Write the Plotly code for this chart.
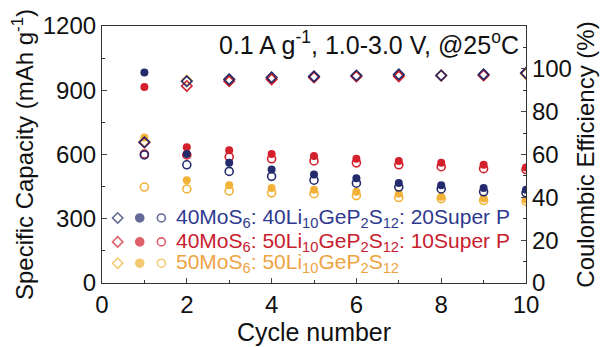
import plotly.graph_objects as go

cycles = [1, 2, 3, 4, 5, 6, 7, 8, 9, 10]

# 40MoS6 : 40LGPS : 20 Super P (navy)
blue_dis = [983, 602, 561, 530, 507, 489, 467, 457, 444, 435]
blue_chg = [598, 552, 521, 498, 480, 466, 448, 439, 426, 421]
blue_ce = [65.7, 94.2, 95.1, 96.0, 96.5, 96.9, 97.4, 96.9, 97.4, 98.0]

# 40MoS6 : 50LGPS : 10 Super P (red)
red_dis = [915, 634, 620, 602, 593, 580, 570, 561, 552, 539]
red_chg = [602, 598, 589, 580, 570, 561, 552, 543, 534, 530]
red_ce = [65.6, 92.0, 94.2, 95.1, 96.0, 96.4, 96.5, 96.9, 96.9, 98.0]

# 50MoS6 : 50LGPS (yellow)
yel_dis = [679, 480, 457, 444, 435, 426, 417, 403, 394, 390]
yel_chg = [448, 439, 430, 421, 417, 408, 399, 394, 385, 381]
yel_ce = [66.0, 94.5, 95.0, 95.8, 96.2, 96.6, 97.0, 96.8, 97.2, 97.6]

legend_labels = [
    "40MoS<sub>6</sub>: 40Li<sub>10</sub>GeP<sub>2</sub>S<sub>12</sub>: 20Super P",
    "40MoS<sub>6</sub>: 50Li<sub>10</sub>GeP<sub>2</sub>S<sub>12</sub>: 10Super P",
    "50MoS<sub>6</sub>: 50Li<sub>10</sub>GeP<sub>2</sub>S<sub>12</sub>",
]

NAVY = "#242b6c"
RED = "#d41f2c"
YEL = "#f2b238"
TXT_NAVY = "#2e3a8f"
TXT_RED = "#c8202e"
TXT_YEL = "#eea444"

FONT = "Liberation Sans, Arial, sans-serif"
MS = 8

fig = go.Figure()

series = [
    (yel_dis, yel_chg, yel_ce, YEL),
    (red_dis, red_chg, red_ce, RED),
    (blue_dis, blue_chg, blue_ce, NAVY),
]
for dis, chg, ce, col in series:
    fig.add_trace(go.Scatter(x=cycles, y=chg, mode="markers",
                             marker=dict(symbol="circle-open", size=MS, color=col, line=dict(width=1.6)),
                             xaxis="x", yaxis="y", showlegend=False))
    fig.add_trace(go.Scatter(x=cycles, y=dis, mode="markers",
                             marker=dict(symbol="circle", size=MS, color=col),
                             xaxis="x", yaxis="y", showlegend=False))
for dis, chg, ce, col in series:
    fig.add_trace(go.Scatter(x=cycles, y=ce, mode="markers",
                             marker=dict(symbol="diamond-open", size=MS, color=col, line=dict(width=1.6)),
                             xaxis="x", yaxis="y2", showlegend=False))

# custom legend (overlay axes in fractions of the plot area)
leg_cols = [NAVY, RED, YEL]
leg_txt_cols = [TXT_NAVY, TXT_RED, TXT_YEL]
leg_rows = [0.253, 0.160, 0.077]
leg_sym_x = [0.037, 0.089, 0.140]
leg_syms = ["diamond-open", "circle", "circle-open"]
for col, ry in zip(leg_cols, leg_rows):
    fig.add_trace(go.Scatter(
        x=leg_sym_x, y=[ry] * 3, mode="markers",
        marker=dict(symbol=leg_syms, size=[MS, MS, MS], color=col, line=dict(width=1.6, color=col)),
        xaxis="x3", yaxis="y3", showlegend=False, hoverinfo="skip"))

annotations = []
for lab, col, ry in zip(legend_labels, leg_txt_cols, leg_rows):
    annotations.append(dict(text=lab, x=0.170, y=ry, xref="paper", yref="paper",
                            xanchor="left", yanchor="middle", showarrow=False,
                            font=dict(family=FONT, size=21, color=col)))
annotations.append(dict(text="0.1 A g<sup>-1</sup>, 1.0-3.0 V, @25<sup>o</sup>C",
                        x=0.988, y=0.935, xref="paper", yref="paper",
                        xanchor="right", yanchor="middle", showarrow=False,
                        font=dict(family=FONT, size=25, color="#111")))

fig.update_layout(
    width=605, height=347,
    margin=dict(l=102, r=74, t=20, b=62),
    paper_bgcolor="white", plot_bgcolor="white",
    font=dict(family=FONT, size=24, color="#111"),
    annotations=annotations,
    xaxis=dict(range=[0, 10], dtick=2, tick0=0, ticks="inside", ticklen=5, tickwidth=1,
               showline=True, linecolor="#333", linewidth=1.2, mirror=True, showgrid=False, zeroline=False,
               minor=dict(dtick=1, ticks="inside", ticklen=3, tickcolor="#333"),
               tickfont=dict(size=24), title=dict(text="Cycle number", font=dict(size=25), standoff=0)),
    yaxis=dict(range=[0, 1200], dtick=300, ticks="inside", ticklen=5, tickwidth=1,
               showline=True, linecolor="#333", linewidth=1.2, showgrid=False, zeroline=False,
               minor=dict(dtick=150, ticks="inside", ticklen=3, tickcolor="#333"),
               tickfont=dict(size=24),
               title=dict(text="Specific Capacity (mAh g<sup>-1</sup>)", font=dict(size=24), standoff=2)),
    yaxis2=dict(range=[0, 120], tickvals=[0, 20, 40, 60, 80, 100], ticks="inside", ticklen=5,
                overlaying="y", side="right", anchor="x",
                showline=True, linecolor="#333", linewidth=1.2, showgrid=False, zeroline=False,
                minor=dict(tickvals=[10, 30, 50, 70, 90, 110], ticks="inside", ticklen=3, tickcolor="#333"),
                tickfont=dict(size=24),
                title=dict(text="Coulombic Efficiency (%)", font=dict(size=24), standoff=4)),
    xaxis3=dict(range=[0, 1], overlaying="x", anchor="y3", visible=False, fixedrange=True),
    yaxis3=dict(range=[0, 1], overlaying="y", anchor="x3", visible=False, fixedrange=True),
)

fig.write_html("out.html")
